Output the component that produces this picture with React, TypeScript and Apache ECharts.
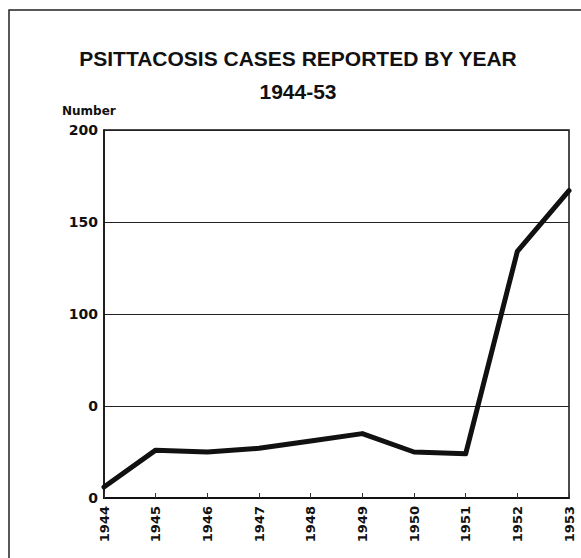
import React, { useEffect, useRef } from "react";
import * as echarts from "echarts";

const years = ["1944", "1945", "1946", "1947", "1948", "1949", "1950", "1951", "1952", "1953"];
const cases = [6, 26, 25, 27, 31, 35, 25, 24, 134, 167];
const yTickValues = [0, 50, 100, 150, 200];
const yTickLabels = ["0", "0", "100", "150", "200"];
const titleLine1 = "PSITTACOSIS CASES REPORTED BY YEAR";
const titleLine2 = "1944-53";
const yAxisTitle = "Number";

export default function App() {
  const ref = useRef<HTMLDivElement>(null);
  useEffect(() => {
    if (!ref.current) return;
    const chart = echarts.init(ref.current, null, { renderer: "svg" });
    const bold = "Liberation Sans";
    chart.setOption({
      animation: false,
      backgroundColor: "#ffffff",
      grid: {
        left: 104,
        top: 130,
        width: 465,
        height: 368,
        show: true,
        borderColor: "#111",
        borderWidth: 1.5,
        containLabel: false,
      },
      graphic: [
        {
          type: "rect",
          shape: { x: 9, y: 10, width: 700, height: 700 },
          style: { fill: "none", stroke: "#222", lineWidth: 1.5 },
          silent: true,
        },
        {
          type: "text",
          x: 298,
          y: 58,
          style: {
            text: titleLine1,
            font: `bold 21px "${bold}"`,
            fill: "#111",
            textAlign: "center",
            textVerticalAlign: "middle",
          },
        },
        {
          type: "text",
          x: 298,
          y: 91,
          style: {
            text: titleLine2,
            font: `bold 21px "${bold}"`,
            fill: "#111",
            textAlign: "center",
            textVerticalAlign: "middle",
          },
        },
        {
          type: "text",
          x: 62,
          y: 111,
          style: {
            text: yAxisTitle,
            font: `bold 12px "DejaVu Sans"`,
            fill: "#111",
            textAlign: "left",
            textVerticalAlign: "middle",
          },
        },
      ],
      xAxis: {
        type: "category",
        data: years,
        boundaryGap: false,
        axisLine: { show: true, lineStyle: { color: "#111", width: 2 } },
        axisTick: {
          show: true,
          inside: true,
          length: 5,
          lineStyle: { color: "#333", width: 1 },
        },
        axisLabel: {
          rotate: 90,
          margin: 8,
          color: "#111",
          fontFamily: "DejaVu Sans",
          fontWeight: "bold",
          fontSize: 13,
        },
        splitLine: { show: false },
      },
      yAxis: {
        type: "value",
        min: 0,
        max: 200,
        interval: 50,
        axisLine: { show: true, lineStyle: { color: "#111", width: 1.5 } },
        axisTick: { show: false },
        axisLabel: {
          margin: 6,
          color: "#111",
          fontFamily: "DejaVu Sans",
          fontWeight: "bold",
          fontSize: 14,
          formatter: (v: number) => {
            const i = yTickValues.indexOf(v);
            return i >= 0 ? yTickLabels[i] : "";
          },
        },
        splitLine: { show: true, lineStyle: { color: "#222", width: 1 } },
      },
      series: [
        {
          type: "line",
          data: cases,
          symbol: "none",
          lineStyle: { color: "#111", width: 5, join: "round", cap: "round" },
        },
      ],
    });
    return () => chart.dispose();
  }, []);
  return (
    <div
      ref={ref}
      style={{ position: "fixed", left: 0, top: 0, width: 581, height: 558 }}
    />
  );
}
